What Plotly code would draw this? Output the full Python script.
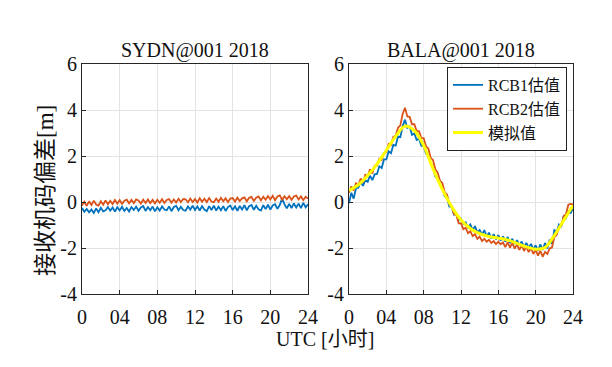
import plotly.graph_objects as go

# ---------------- data ----------------
tick_vals_x = [0, 4, 8, 12, 16, 20, 24]
tick_text_x = ["0", "04", "08", "12", "16", "20", "24"]
tick_vals_y = [-4, -2, 0, 2, 4, 6]
tick_text_y = ["-4", "-2", "0", "2", "4", "6"]

# quarter-hour samples, 0..24 h
sydn_rcb1 = [
    -0.26, -0.42, -0.30, -0.45, -0.33, -0.48, -0.28, -0.44,
    -0.25, -0.41, -0.36, -0.22, -0.38, -0.24, -0.42, -0.23,
    -0.37, -0.21, -0.39, -0.26, -0.41, -0.22, -0.35, -0.20,
    -0.38, -0.24, -0.18, -0.39, -0.22, -0.36, -0.20, -0.41,
    -0.23, -0.37, -0.19, -0.33, -0.36, -0.19, -0.40, -0.22,
    -0.17, -0.36, -0.21, -0.35, -0.38, -0.19, -0.33, -0.16,
    -0.35, -0.19, -0.37, -0.18, -0.33, -0.40, -0.18, -0.35,
    -0.16, -0.37, -0.20, -0.36, -0.18, -0.39, -0.22, -0.15,
    -0.35, -0.19, -0.38, -0.17, -0.33, -0.14, -0.36, -0.18,
    -0.13, -0.34, -0.16, -0.32, -0.37, -0.14, -0.31, -0.12,
    -0.33, -0.15, -0.10, -0.30, -0.13, 0.15, -0.09, -0.28,
    -0.08, -0.26, -0.06, -0.24, -0.07, -0.27, -0.04, -0.23,
    -0.10,
]
sydn_rcb2 = [
    -0.15, 0.01, -0.17, 0.03, -0.13, 0.06, -0.11, -0.16,
    0.03, -0.12, 0.07, -0.10, 0.05, -0.09, 0.09, -0.07,
    0.08, -0.08, 0.06, 0.10, -0.06, 0.09, -0.05, 0.11,
    0.07, -0.07, 0.10, -0.04, 0.11, -0.05, 0.09, -0.06,
    0.10, -0.03, 0.12, -0.04, 0.09, 0.13, -0.03, 0.11,
    -0.02, 0.14, 0.00, 0.13, 0.12, -0.01, 0.15, 0.00,
    0.13, -0.02, 0.16, 0.01, 0.14, 0.00, 0.17, 0.02,
    -0.01, 0.15, 0.01, 0.18, 0.03, 0.16, 0.00, 0.15,
    0.17, 0.02, 0.19, 0.04, 0.16, 0.20, 0.03, 0.18,
    0.22, 0.05, 0.19, 0.24, 0.07, 0.23, 0.10, 0.26,
    0.11, 0.27, 0.08, 0.24, 0.29, 0.10, 0.25, 0.12,
    0.26, 0.09, 0.24, 0.28, 0.11, 0.25, 0.08, 0.23,
    0.15,
]
bala_rcb1 = [
    -0.05, 0.40, 0.15, 0.60, 0.62, 0.88, 0.70, 0.95,
    0.88, 1.15, 0.95, 1.20, 1.22, 1.55, 1.48, 1.85,
    1.85, 2.20, 2.12, 2.48, 2.45, 2.85, 2.82, 3.30,
    3.58, 3.22, 3.28, 2.92, 2.98, 2.70, 2.75, 2.45,
    2.42, 2.10, 2.08, 1.70, 1.50, 1.10, 1.05, 0.75,
    0.62, 0.25, 0.18, -0.20, -0.22, -0.55, -0.48, -0.80,
    -0.72, -0.95, -0.88, -1.10, -0.98, -1.22, -1.05, -1.32,
    -1.22, -1.42, -1.22, -1.50, -1.33, -1.58, -1.40, -1.62,
    -1.44, -1.68, -1.50, -1.72, -1.52, -1.78, -1.60, -1.82,
    -1.66, -1.88, -1.72, -1.95, -1.78, -2.00, -1.82, -2.06,
    -1.88, -2.12, -1.84, -2.08, -1.78, -2.02, -1.64, -1.82,
    -1.22, -1.30, -0.98, -1.05, -0.62, -0.70, -0.42, -0.48,
    -0.28,
]
bala_rcb2 = [
    0.40, 0.68, 0.50, 0.82, 0.74, 1.02, 0.85, 1.18,
    1.13, 1.42, 1.24, 1.58, 1.58, 1.88, 1.83, 2.13,
    2.18, 2.52, 2.48, 2.83, 2.88, 3.23, 3.33, 3.83,
    4.10, 3.72, 3.70, 3.38, 3.38, 3.08, 3.08, 2.78,
    2.78, 2.42, 2.33, 1.92, 1.83, 1.42, 1.28, 0.92,
    0.83, 0.42, 0.33, -0.08, -0.17, -0.53, -0.57, -0.93,
    -0.92, -1.18, -1.12, -1.36, -1.27, -1.48, -1.40, -1.60,
    -1.50, -1.70, -1.60, -1.73, -1.64, -1.78, -1.70, -1.83,
    -1.72, -1.84, -1.76, -1.96, -1.74, -1.98, -1.78, -2.03,
    -1.84, -2.08, -1.88, -2.13, -1.94, -2.18, -2.00, -2.26,
    -2.07, -2.33, -2.12, -2.38, -2.17, -2.26, -2.02, -1.98,
    -1.52, -1.43, -1.07, -1.03, -0.62, -0.53, -0.12, -0.08,
    -0.10,
]
# hourly simulated values
bala_sim = [
    0.50, 0.75, 1.15, 1.65, 2.25, 2.85, 3.30, 3.10, 2.45, 1.45,
    0.55, -0.20, -0.78, -1.15, -1.38, -1.50, -1.57, -1.65, -1.80,
    -1.95, -2.05, -1.98, -1.45, -0.80, -0.15,
]

titles = ["SYDN@001 2018", "BALA@001 2018"]
legend_names = ["RCB1估值", "RCB2估值", "模拟值"]
x_label = "UTC [小时]"
y_label = "接收机码偏差[m]"

# ---------------- style ----------------
W, H = 612, 367
BLUE = "#0072BD"
ORANGE = "#D95319"
YELLOW = "#FFFF00"
FONT = "Liberation Serif, 'Noto Sans CJK SC', serif"
AXC = "#262626"
NW = 1.8

fig = go.Figure()

fig.add_trace(go.Scatter(y=sydn_rcb1, x0=0, dx=0.25, mode="lines",
                         line=dict(color=BLUE, width=NW), xaxis="x", yaxis="y",
                         showlegend=False))
fig.add_trace(go.Scatter(y=sydn_rcb2, x0=0, dx=0.25, mode="lines",
                         line=dict(color=ORANGE, width=NW), xaxis="x", yaxis="y",
                         showlegend=False))
fig.add_trace(go.Scatter(y=bala_rcb1, x0=0, dx=0.25, mode="lines", name=legend_names[0],
                         line=dict(color=BLUE, width=NW), xaxis="x2", yaxis="y2"))
fig.add_trace(go.Scatter(y=bala_rcb2, x0=0, dx=0.25, mode="lines", name=legend_names[1],
                         line=dict(color=ORANGE, width=NW), xaxis="x2", yaxis="y2"))
fig.add_trace(go.Scatter(y=bala_sim, x0=0, dx=1, mode="lines", name=legend_names[2],
                         line=dict(color=YELLOW, width=3, shape="spline"),
                         xaxis="x2", yaxis="y2"))

ydom = [(H - 294) / H, (H - 64) / H]
common_x = dict(range=[0, 24], tickvals=tick_vals_x, ticktext=tick_text_x,
                showline=True, mirror=True, linecolor=AXC, linewidth=1,
                ticks="inside", ticklen=4, tickcolor=AXC, automargin=False,
                ticklabelstandoff=5,
                showgrid=True, gridcolor="#e3e3e3", gridwidth=1, zeroline=False,
                tickfont=dict(family=FONT, size=20, color="#111"))
common_y = dict(range=[-4, 6], tickvals=tick_vals_y, ticktext=tick_text_y,
                showline=True, mirror=True, linecolor=AXC, linewidth=1,
                ticks="inside", ticklen=4, tickcolor=AXC, automargin=False,
                showgrid=True, gridcolor="#e3e3e3", gridwidth=1, zeroline=False,
                tickfont=dict(family=FONT, size=20, color="#111"), domain=ydom)

fig.update_layout(
    width=W, height=H,
    margin=dict(l=0, r=0, t=0, b=0, autoexpand=False),
    paper_bgcolor="white", plot_bgcolor="white",
    xaxis=dict(domain=[82 / W, 308 / W], anchor="y", **common_x),
    yaxis=dict(anchor="x", **common_y),
    xaxis2=dict(domain=[349 / W, 573 / W], anchor="y2", **common_x),
    yaxis2=dict(anchor="x2", **common_y),
    legend=dict(x=567 / W, xanchor="right", y=(H - 67) / H, yanchor="top",
                bgcolor="white", bordercolor="#222", borderwidth=1,
                font=dict(family=FONT, size=16, color="#111"),
                tracegroupgap=0, itemwidth=30),
    font=dict(family=FONT, color="#111"),
)

annots = [
    dict(text=titles[0], x=195 / W, y=(H - 50) / H, size=20, angle=0),
    dict(text=titles[1], x=461 / W, y=(H - 50) / H, size=20, angle=0),
    dict(text=x_label, x=325 / W, y=(H - 339) / H, size=20, angle=0),
    dict(text=y_label, x=45 / W, y=(H - 191) / H, size=23, angle=-90),
]
for a in annots:
    fig.add_annotation(xref="paper", yref="paper", showarrow=False,
                       xanchor="center", yanchor="middle",
                       font=dict(family=FONT, color="#111", size=a["size"]),
                       text=a["text"], x=a["x"], y=a["y"], textangle=a["angle"])

fig.write_html("out.html", config={"displayModeBar": False},
               post_script="document.body.style.margin='0px';document.body.style.padding='0px';")
